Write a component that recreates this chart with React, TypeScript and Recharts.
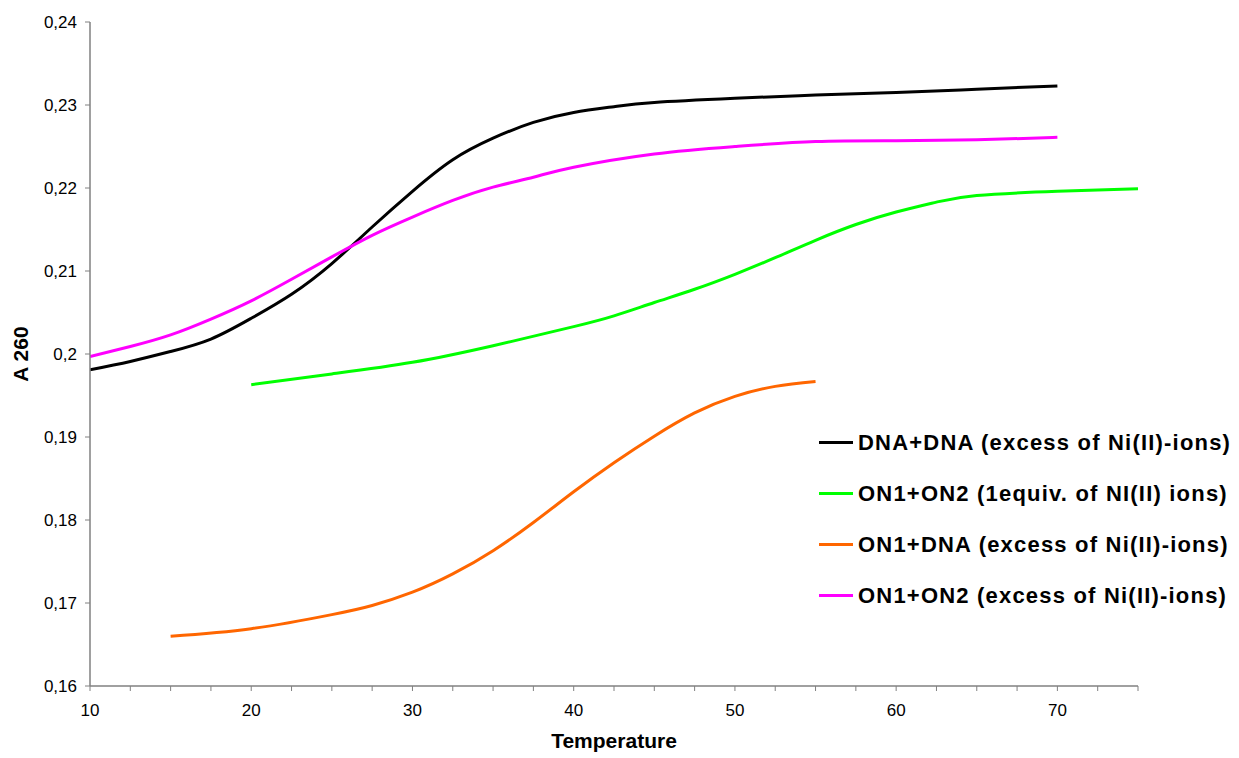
import React from "react";
import { LineChart, Line, XAxis, YAxis, Legend } from "recharts";

// Temperature readings (°C) and absorbance at 260 nm, per sample
const dnaDnaTemps = [10, 12.5, 15, 17.5, 20, 22.5, 25, 27.5, 30, 32.5, 35, 37.5, 40, 42.5, 45, 50, 55, 60, 65, 70];
const dnaDnaValues = [0.1981, 0.1991, 0.2003, 0.2018, 0.2043, 0.2072, 0.2109, 0.2153, 0.2196, 0.2234, 0.226, 0.2279, 0.2291, 0.2298, 0.2303, 0.2308, 0.2312, 0.2315, 0.2319, 0.2323];

const on1On2EquivTemps = [20, 25, 30, 35, 40, 42.5, 45, 47.5, 50, 52.5, 55, 57.5, 60, 62.5, 65, 70, 75];
const on1On2EquivValues = [0.1963, 0.1976, 0.199, 0.201, 0.2033, 0.2046, 0.2062, 0.2078, 0.2096, 0.2116, 0.2137, 0.2156, 0.2171, 0.2183, 0.2191, 0.2196, 0.2199];

const on1DnaTemps = [15, 20, 25, 27.5, 30, 32.5, 35, 37.5, 40, 42.5, 45, 47.5, 50, 52.5, 55];
const on1DnaValues = [0.166, 0.1669, 0.1686, 0.1697, 0.1713, 0.1735, 0.1763, 0.1797, 0.1834, 0.1869, 0.1901, 0.1929, 0.1949, 0.1961, 0.1967];

const on1On2ExcessTemps = [10, 12.5, 15, 17.5, 20, 22.5, 25, 27.5, 30, 32.5, 35, 37.5, 40, 45, 50, 55, 60, 65, 70];
const on1On2ExcessValues = [0.1997, 0.2009, 0.2023, 0.2042, 0.2064, 0.209, 0.2117, 0.2143, 0.2165, 0.2185, 0.2201, 0.2213, 0.2225, 0.2241, 0.225, 0.2256, 0.2257, 0.2258, 0.2261];

const xTicks = [10, 12.5, 15, 17.5, 20, 22.5, 25, 27.5, 30, 32.5, 35, 37.5, 40, 42.5, 45, 47.5, 50, 52.5, 55, 57.5, 60, 62.5, 65, 67.5, 70, 72.5, 75];
const xLabels = [10, 20, 30, 40, 50, 60, 70];
const yTicks = [0.16, 0.17, 0.18, 0.19, 0.2, 0.21, 0.22, 0.23, 0.24];

const FONT = "Arial, 'Liberation Sans', sans-serif";
const AXIS_COLOR = "#808080";
const TICK_STYLE = { fill: "#000", fontSize: 17, fontFamily: FONT };

const toPoints = (temps: number[], values: number[]) =>
  temps.map((t, i) => ({ t, a: values[i] }));

const series = [
  { name: "DNA+DNA (excess of Ni(II)-ions)", color: "#000000", data: toPoints(dnaDnaTemps, dnaDnaValues) },
  { name: "ON1+ON2 (1equiv. of NI(II) ions)", color: "#00FF00", data: toPoints(on1On2EquivTemps, on1On2EquivValues) },
  { name: "ON1+DNA (excess of Ni(II)-ions)", color: "#FF6600", data: toPoints(on1DnaTemps, on1DnaValues) },
  { name: "ON1+ON2 (excess of Ni(II)-ions)", color: "#FF00FF", data: toPoints(on1On2ExcessTemps, on1On2ExcessValues) },
];

const formatY = (v: number) => String(parseFloat(v.toFixed(2))).replace(".", ",");
const formatX = (v: number) => (xLabels.includes(v) ? String(v) : "");

function LegendBox() {
  return (
    <div style={{ fontFamily: FONT }}>
      {series.map((s) => (
        <div key={s.name} style={{ display: "flex", alignItems: "center", height: 51 }}>
          <span style={{ display: "inline-block", width: 34, height: 3, background: s.color, marginRight: 5 }} />
          <span style={{ fontSize: 22, fontWeight: "bold", color: "#000", letterSpacing: 1.2, whiteSpace: "nowrap" }}>
            {s.name}
          </span>
        </div>
      ))}
    </div>
  );
}

export default function App() {
  return (
    <div style={{ position: "absolute", left: 0, top: 0, background: "#fff" }}>
      <LineChart width={1239} height={758} margin={{ top: 22, right: 101, left: 0, bottom: 0 }}>
        <XAxis
          type="number"
          dataKey="t"
          domain={[10, 75]}
          ticks={xTicks}
          interval={0}
          tickFormatter={formatX}
          tick={TICK_STYLE}
          tickSize={5}
          tickMargin={13}
          height={72}
          axisLine={{ stroke: AXIS_COLOR, strokeWidth: 1.5 }}
          tickLine={{ stroke: AXIS_COLOR }}
          allowDataOverflow
          label={{ value: "Temperature", position: "center", dy: 19, style: { fontSize: 21, fontWeight: "bold", fill: "#000", fontFamily: FONT } }}
        />
        <YAxis
          type="number"
          domain={[0.16, 0.24]}
          ticks={yTicks}
          interval={0}
          tickFormatter={formatY}
          tick={TICK_STYLE}
          tickSize={5}
          tickMargin={8}
          width={90}
          axisLine={{ stroke: AXIS_COLOR, strokeWidth: 1.5 }}
          tickLine={{ stroke: AXIS_COLOR }}
          allowDataOverflow
          label={{ value: "A 260", angle: -90, position: "center", dx: -24, style: { fontSize: 21, fontWeight: "bold", fill: "#000", fontFamily: FONT, textAnchor: "middle" } }}
        />
        <Legend
          layout="vertical"
          align="center"
          verticalAlign="middle"
          content={() => <LegendBox />}
          wrapperStyle={{ position: "absolute", left: 819, top: 417, width: "auto", height: "auto" }}
        />
        {series.map((s) => (
          <Line
            key={s.name}
            data={s.data}
            dataKey="a"
            name={s.name}
            type="natural"
            stroke={s.color}
            strokeWidth={3}
            dot={false}
            activeDot={false}
            isAnimationActive={false}
          />
        ))}
      </LineChart>
    </div>
  );
}
